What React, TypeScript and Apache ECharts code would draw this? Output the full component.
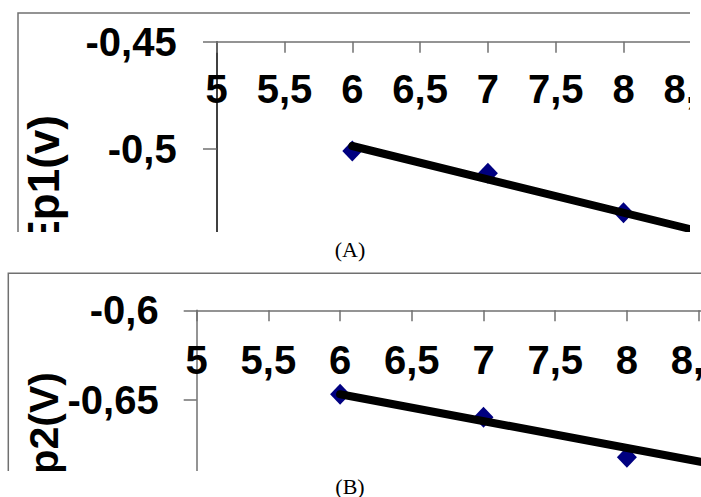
import React, { useEffect, useRef } from "react";
import * as echarts from "echarts";

// ---- data ----
const xValues = [6, 7, 8];
const ep1Values = [-0.5009, -0.5113, -0.5297];
const ep2Values = [-0.6468, -0.6596, -0.6819];
const trendX = [6, 8.6];
const trend1 = [-0.4986, -0.539];
const trend2 = [-0.6468, -0.6857];
const yNameA = "Ep1(v)";
const yNameB = "Ep2(V)";
const captionA = "(A)";
const captionB = "(B)";

const fmt = (v: number) => String(+Number(v).toFixed(3)).replace(".", ",");
const labelFont = {
  fontFamily: "'Liberation Sans', Arial, sans-serif",
  fontWeight: "bold" as const,
  fontSize: 40,
  color: "#000",
};

const pairs = (xs: number[], ys: number[]) => xs.map((x, i) => [x, ys[i]]);

function xAxisFor(gridIndex: number, margin: number) {
  return {
    type: "value",
    gridIndex,
    min: 5,
    max: 9,
    interval: 0.5,
    position: "top",
    axisLine: { show: true, onZero: false, lineStyle: { color: "#707070", width: 1.5 } },
    axisTick: { show: true, inside: true, length: 11, lineStyle: { color: "#707070", width: 1.5 } },
    axisLabel: { inside: true, margin, formatter: fmt, showMaxLabel: false, ...labelFont },
    splitLine: { show: false },
  };
}

function yAxisFor(gridIndex: number, min: number, max: number, lineColor: string, tickLen: number, margin: number) {
  return {
    type: "value",
    gridIndex,
    min,
    max,
    interval: 0.05,
    axisLine: { show: true, onZero: false, lineStyle: { color: lineColor, width: 1.5 } },
    axisTick: { show: true, inside: false, length: tickLen, lineStyle: { color: "#707070", width: 1.5 } },
    axisLabel: { margin, formatter: fmt, showMinLabel: false, ...labelFont },
    splitLine: { show: false },
  };
}

export default function App() {
  const ref = useRef<HTMLDivElement>(null);
  useEffect(() => {
    if (!ref.current) return;
    const chart = echarts.init(ref.current, null, { renderer: "svg" });
    const option: any = {
      animation: false,
      backgroundColor: "#fff",
      grid: [
        { left: 216.7, top: 41.7, width: 542.4, height: 214.6, outerBoundsMode: "none", containLabel: false },
        { left: 196.7, top: 310.3, width: 573.6, height: 179.4, outerBoundsMode: "none", containLabel: false },
      ],
      xAxis: [xAxisFor(0, 27), xAxisFor(1, 30)],
      yAxis: [
        yAxisFor(0, -0.55, -0.45, "#000", 13.7, 40),
        yAxisFor(1, -0.7, -0.6, "#707070", 13, 38),
      ],
      series: [
        {
          type: "scatter",
          xAxisIndex: 0,
          yAxisIndex: 0,
          data: pairs(xValues, ep1Values),
          symbol: "diamond",
          symbolSize: [20, 21],
          itemStyle: { color: "#000080", opacity: 1 },
          z: 2,
        },
        {
          type: "line",
          xAxisIndex: 0,
          yAxisIndex: 0,
          data: pairs(trendX, trend1),
          showSymbol: false,
          symbol: "none",
          lineStyle: { color: "#000", width: 8, cap: "round" },
          z: 3,
        },
        {
          type: "scatter",
          xAxisIndex: 1,
          yAxisIndex: 1,
          data: pairs(xValues, ep2Values),
          symbol: "diamond",
          symbolSize: [20, 21],
          itemStyle: { color: "#000080", opacity: 1 },
          z: 2,
        },
        {
          type: "line",
          xAxisIndex: 1,
          yAxisIndex: 1,
          data: pairs(trendX, trend2),
          showSymbol: false,
          symbol: "none",
          lineStyle: { color: "#000", width: 8, cap: "round" },
          z: 3,
        },
      ],
      graphic: [
        {
          type: "text",
          x: 43,
          y: 115,
          rotation: Math.PI / 2,
          z: 50,
          style: {
            text: yNameA,
            align: "right",
            verticalAlign: "middle",
            font: "bold 44px 'Liberation Sans', Arial, sans-serif",
            fill: "#000",
          },
        },
        {
          type: "text",
          x: 44,
          y: 372,
          rotation: Math.PI / 2,
          z: 50,
          style: {
            text: yNameB,
            align: "right",
            verticalAlign: "middle",
            font: "bold 41px 'Liberation Sans', Arial, sans-serif",
            fill: "#000",
          },
        },
        {
          type: "polyline",
          z: 60,
          shape: { points: [[18, 232], [18, 13], [701, 13]] },
          style: { stroke: "#707070", lineWidth: 1.5, fill: null },
        },
        {
          type: "polyline",
          z: 60,
          shape: { points: [[8.3, 471], [8.3, 273.3], [701, 273.3]] },
          style: { stroke: "#707070", lineWidth: 1.5, fill: null },
        },
        // clipping masks (the reference picture is cropped)
        { type: "rect", z: 100, shape: { x: 690, y: 0, width: 11, height: 232 }, style: { fill: "#fff" } },
        { type: "rect", z: 100, shape: { x: 0, y: 232, width: 701, height: 40 }, style: { fill: "#fff" } },
        { type: "rect", z: 100, shape: { x: 0, y: 471, width: 701, height: 26 }, style: { fill: "#fff" } },
        {
          type: "text",
          x: 350,
          y: 249,
          z: 110,
          style: {
            text: captionA,
            align: "center",
            verticalAlign: "middle",
            font: "22px 'Liberation Serif', 'Times New Roman', serif",
            fill: "#000",
          },
        },
        {
          type: "text",
          x: 350,
          y: 486,
          z: 110,
          style: {
            text: captionB,
            align: "center",
            verticalAlign: "middle",
            font: "22px 'Liberation Serif', 'Times New Roman', serif",
            fill: "#000",
          },
        },
      ],
    };
    chart.setOption(option);
    return () => chart.dispose();
  }, []);
  return (
    <div style={{ position: "absolute", left: 0, top: 0, width: 701, height: 497, background: "#fff", overflow: "hidden" }}>
      <div ref={ref} style={{ width: 701, height: 497 }} />
    </div>
  );
}
